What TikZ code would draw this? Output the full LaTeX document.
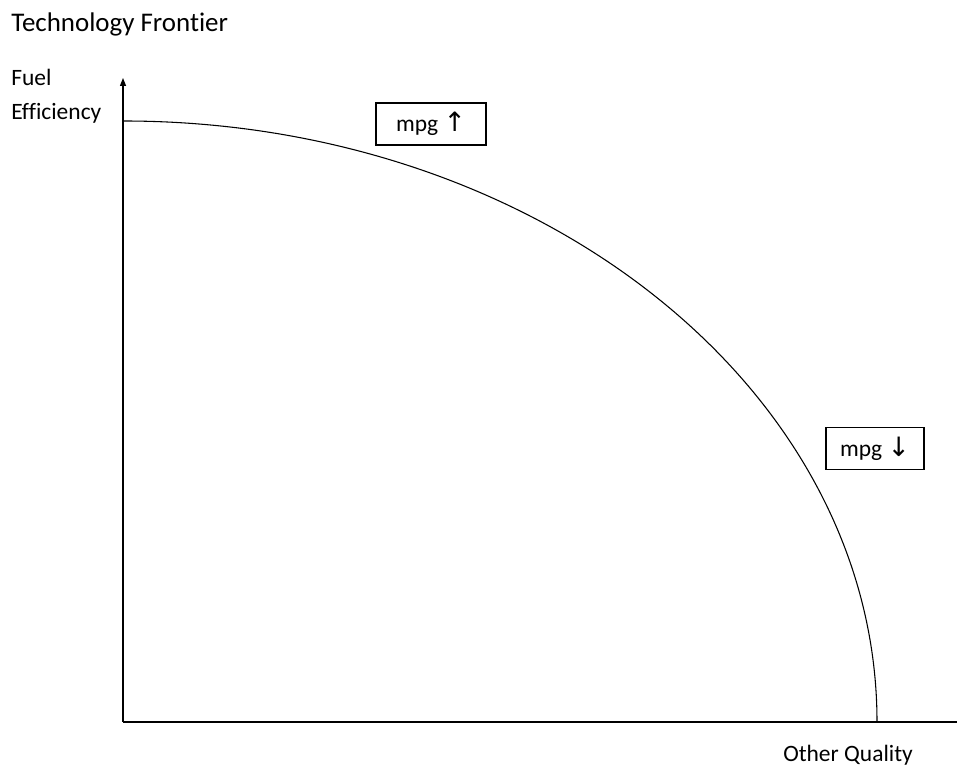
\documentclass[tikz,border=0pt]{standalone}
\usepackage{fontspec}
\setmainfont{Carlito}[Ligatures=NoCommon]
\newfontfamily\arrowfont{DejaVu Sans}
\usetikzlibrary{arrows.meta}
\tikzset{
  lbl/.style={font=\fontsize{17.6}{21}\selectfont,inner sep=0pt},
  mpgbox/.style={draw,line width=0.8pt,font=\fontsize{17.6}{21}\selectfont,inner sep=0pt,minimum height=42*0.75pt},
  axis/.style={line width=1pt}
}
\newcommand{\mpgarrow}[1]{{\arrowfont\fontsize{20}{20}\selectfont#1}}
\begin{document}
\begin{tikzpicture}[x=0.75pt,y=0.75pt]
\useasboundingbox (0,0) rectangle (957,774);
% titles and axis names
\node[lbl,font=\fontsize{20.2}{24}\selectfont,anchor=base west] (title) at (11,742) {Technology Frontier};
\node[lbl,anchor=base west] (fuel) at (11,688) {Fuel};
\node[lbl,anchor=base west] (eff) at (11,654) {Efficiency};
\node[lbl,anchor=base west] (oq) at (783,12) {Other Quality};
% axes
\coordinate (o) at (123,52);
\coordinate (ytop) at (123,696);
\coordinate (xend) at (957,52);
\draw[axis,-{Triangle[length=6pt,width=4.5pt]}] (o) -- (ytop);
\draw[axis] (o) -- (xend);
% frontier
\coordinate (fstart) at (123,653);
\draw[line width=0.8pt] (fstart) arc[start angle=90,end angle=0,x radius=754,y radius=601] coordinate (fend);
% labels on the curve
\node[mpgbox,minimum width=110*0.75pt] (up) at (431,650) {mpg \mpgarrow{↑}};
\node[mpgbox,minimum width=98*0.75pt] (down) at (875,325.5) {mpg \mpgarrow{↓}};
\end{tikzpicture}
\end{document}
